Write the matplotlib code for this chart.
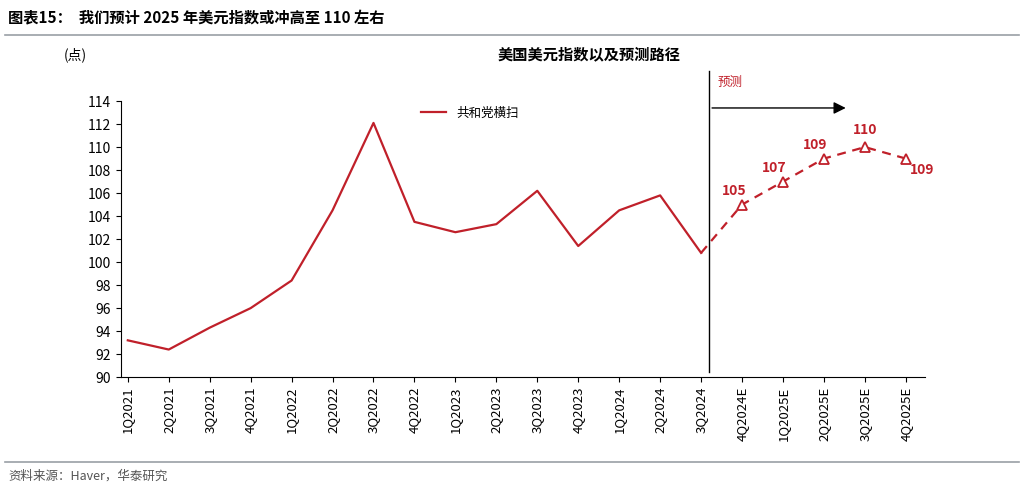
import numpy as np
import matplotlib.pyplot as plt

plt.rcParams['font.family'] = ['Noto Sans CJK SC', 'DejaVu Sans']

# ---- Data ----
quarters = ['1Q2021', '2Q2021', '3Q2021', '4Q2021', '1Q2022', '2Q2022', '3Q2022', '4Q2022',
            '1Q2023', '2Q2023', '3Q2023', '4Q2023', '1Q2024', '2Q2024', '3Q2024',
            '4Q2024E', '1Q2025E', '2Q2025E', '3Q2025E', '4Q2025E']
actual = [93.2, 92.4, 94.3, 96.0, 98.4, 104.5, 112.1, 103.5, 102.6, 103.3, 106.2,
          101.4, 104.5, 105.8, 100.8]
forecast = [105, 107, 109, 110, 109]

red = '#c0202a'
x = np.arange(len(quarters))
n_act = len(actual)

fig = plt.figure(figsize=(10.24, 4.93), dpi=100)
ax = fig.add_axes([0.118, 0.235, 0.785, 0.56])

ax.plot(x[:n_act], actual, color=red, linewidth=1.6, label='共和党横扫')
xf = x[n_act - 1:]
yf = [actual[-1]] + forecast
ax.plot(xf, yf, color=red, linestyle=(0, (4, 3)), linewidth=1.6)
ax.plot(x[n_act:], forecast, linestyle='none', marker='^', markersize=7,
        markerfacecolor='white', markeredgecolor=red, markeredgewidth=1.3)

offsets = [(-6, 10), (-6, 10), (-6, 10), (0, 12), (12, -8)]
for xi, v, (dx, dy) in zip(x[n_act:], forecast, offsets):
    ax.annotate(str(v), (xi, v), xytext=(dx, dy), textcoords='offset points',
                ha='center', va='center', color=red, fontsize=10, fontweight='bold')

# forecast divider and arrow
ax.axvline(n_act - 1 + 0.2, ymin=0.02, ymax=1.11, color='black', linewidth=1, clip_on=False)
ax.annotate('', xy=(n_act - 1 + 3.6, 113.4), xytext=(n_act - 1 + 0.2, 113.4),
            arrowprops=dict(arrowstyle='-|>', color='black', lw=1, mutation_scale=18),
            annotation_clip=False)
ax.text(n_act - 1 + 0.4, 115.6, '预测', color=red, fontsize=9, va='center')

ax.set_xlim(-0.17, 19.46)
ax.set_ylim(90, 114)
ax.set_yticks(np.arange(90, 115, 2))
ax.set_xticks(x)
ax.set_xticklabels(quarters, rotation=90, fontsize=9.5)
ax.tick_params(axis='y', labelsize=10)
for s in ['top', 'right']:
    ax.spines[s].set_visible(False)

ax.legend(loc='upper left', bbox_to_anchor=(0.36, 1.02), frameon=False, fontsize=9)

fig.text(0.062, 0.88, '(点)', fontsize=10)
fig.text(0.575, 0.88, '美国美元指数以及预测路径', fontsize=11, ha='center', fontweight='bold')
fig.text(0.008, 0.962, '图表15：  我们预计 2025 年美元指数或冲高至 110 左右', fontsize=11,
         fontweight='bold', va='center')
fig.add_artist(plt.Line2D([0.005, 0.995], [0.93, 0.93], color='#9aa0a6', linewidth=1.2))
fig.add_artist(plt.Line2D([0.005, 0.995], [0.062, 0.062], color='#9aa0a6', linewidth=1.2))
fig.text(0.008, 0.035, '资料来源：Haver，华泰研究', fontsize=9, color='#555555', va='center')

fig.savefig('out.png', dpi=100)
